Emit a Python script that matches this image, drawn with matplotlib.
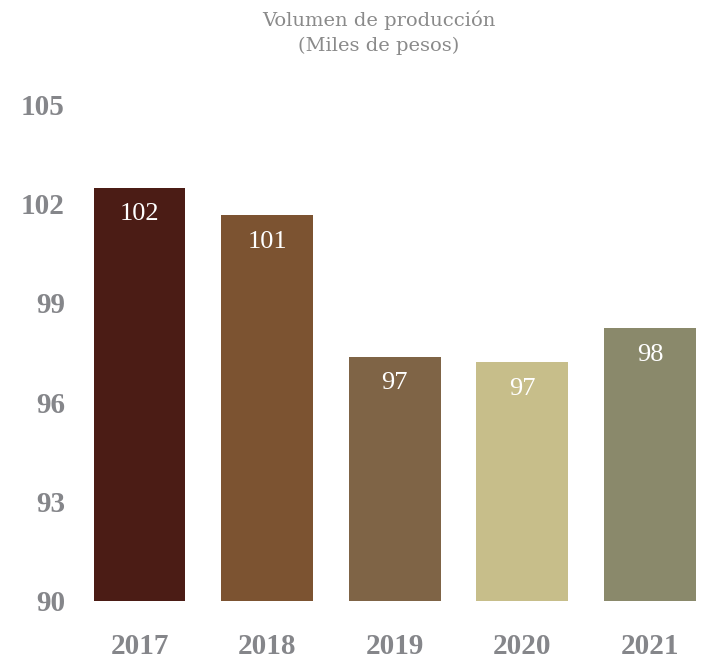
import matplotlib.pyplot as plt

# Data
years = ['2017', '2018', '2019', '2020', '2021']
values = [102.47, 101.65, 97.37, 97.21, 98.24]
value_labels = ['102', '101', '97', '97', '98']
colors = ['#4b1c15', '#7c5331', '#7f6446', '#c7be8a', '#8a896b']
yticks = [90, 93, 96, 99, 102, 105]

fig = plt.figure(figsize=(7.04, 6.61), dpi=100)
ax = fig.add_axes([0.1257, 0.0908, 0.870, 0.8018])

x = range(len(years))
bars = ax.bar(x, [v - 90 for v in values], bottom=90, width=0.72, color=colors)

# Value labels inside the bars
for xi, v, lab in zip(x, values, value_labels):
    ax.text(xi, v - 0.8, lab, ha='center', va='center', color='white',
            fontsize=19, family='Liberation Serif')

ax.set_xlim(-0.4, 4.4)
ax.set_ylim(90, 106)
ax.set_xticks(list(x))
ax.set_xticklabels(years, fontsize=21, fontweight='bold',
                   family='Liberation Serif', color='#85868a')
ax.set_yticks(yticks)
ax.set_yticklabels([str(t) for t in yticks], fontsize=21, fontweight='bold',
                   family='Liberation Serif', color='#85868a')
ax.tick_params(axis='x', length=0, pad=23)
ax.tick_params(axis='y', length=0, pad=17)
for s in ax.spines.values():
    s.set_visible(False)

# Title
fig.text(0.538, 0.95, 'Volumen de producción\n(Miles de pesos)', ha='center',
         va='center', fontsize=14, family='DejaVu Serif', color='#8a8a8a',
         linespacing=1.5, fontweight='light')

fig.savefig('out.png', dpi=100)
